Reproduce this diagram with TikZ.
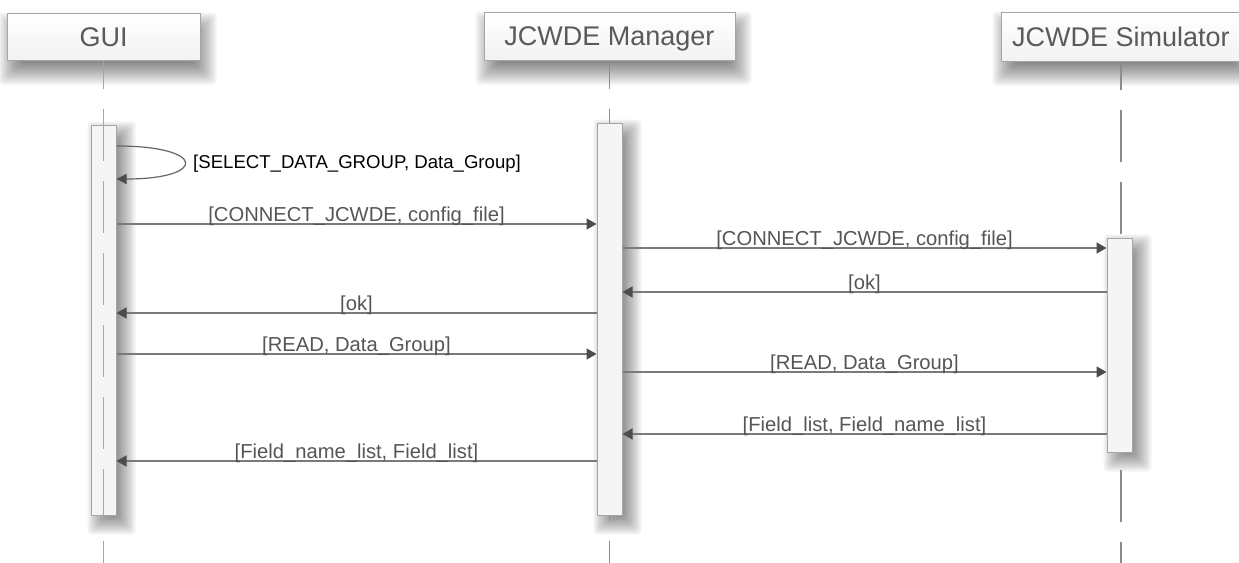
\documentclass[tikz,border=0pt]{standalone}
\usepackage{fontspec}
\setmainfont{Liberation Sans}
\usetikzlibrary{arrows.meta}

\definecolor{lineg}{HTML}{7A7A7A}
\definecolor{headg}{HTML}{5A5A5A}
\definecolor{textg}{HTML}{555555}
\definecolor{boxborder}{HTML}{A5A5A5}

\pgfdeclarelayer{background}
\pgfsetlayers{background,main}

% soft drop shadow behind a named node: #1 node, #2 dx, #3 dy, #4 spread
\newcommand\dropshadow[4]{%
  \begin{pgfonlayer}{background}
    \foreach \k in {0,...,12}{%
      \pgfmathsetmacro\e{#4 - \k*#4/6}%
      \fill[black, opacity=0.048, rounded corners=4pt]
        ([shift={(#2-\e,#3-\e)}]#1.north west) rectangle ([shift={(#2+\e,#3+\e)}]#1.south east);
    }%
  \end{pgfonlayer}}

\begin{document}
\begin{tikzpicture}[x=1pt,y=-1pt,
  header/.style={draw=boxborder, line width=1pt, top color=white, bottom color=black!5,
    font=\fontsize{27}{30}\selectfont, text=headg, inner sep=0pt,
    text height=19.5pt, text depth=0pt},
  activation/.style={draw=boxborder, line width=1pt, fill=black!4, inner sep=0pt,
    minimum width=25pt},
  lifeline/.style={draw=black!45, line width=1.5pt, dash pattern=on 52pt off 20pt, dash phase=24pt},
  innerlife/.style={draw=black!35, line width=1.5pt, dash pattern=on 52pt off 20pt, dash phase=24pt},
  msg/.style={draw=lineg, line width=1.5pt, -{Triangle[length=10pt,width=11pt,color=black!70]}},
  msglabel/.style={font=\fontsize{20.2}{23}\selectfont, text=textg, anchor=base, inner sep=0pt, yshift=3pt},
  selflabel/.style={font=\fontsize{18.6}{21}\selectfont, text=black, anchor=west, inner sep=0pt}
]
\path[use as bounding box] (0,0) rectangle (1239,562);
\clip (0,0) rectangle (1239,562);
\begin{pgfonlayer}{background}
  \fill[white] (0,0) rectangle (1239,562);
\end{pgfonlayer}

% participants
\node[header, minimum width=193pt, minimum height=47pt] (gui) at (103.5,36.5) {GUI};
\node[header, minimum width=251pt, minimum height=48pt] (mgr) at (609.5,36) {JCWDE Manager};
\node[header, minimum width=240pt, minimum height=49pt] (sim) at (1121,36.5) {JCWDE Simulator};
\dropshadow{gui}{4}{12}{12}
\dropshadow{mgr}{4}{12}{12}
\dropshadow{sim}{4}{12}{12}

% lifelines
\draw[lifeline] (gui.south) -- (gui.south |- 0,580);
\draw[lifeline] (mgr.south) -- (mgr.south |- 0,580);
\draw[lifeline] (sim.south) -- (sim.south |- 0,580);

% activation bars
\node[activation, minimum height=392pt] (mact) at (609.5,319) {};
\node[activation, minimum height=214pt] (sact) at (1119.5,345) {};
\node[activation, minimum height=390pt] (gact) at (103.5,320) {};
\dropshadow{mact}{8}{8}{11}
\dropshadow{sact}{8}{8}{11}
\dropshadow{gact}{8}{8}{11}
\draw[innerlife] (gui.south) -- (gui.south |- 0,580);

% self message
\draw[draw=black!60, line width=1.2pt, -{Triangle[length=10pt,width=10pt,color=black!70]}]
  (gact.east |- 0,146) .. controls (207,146) and (207,179) .. (gact.east |- 0,179);
\node[selflabel] (selfl) at (193,164) {[SELECT\_DATA\_GROUP, Data\_Group]};

% messages
\draw[msg] (gact.east |- 0,224) -- (mact.west |- 0,224)
  node[midway, msglabel] {[CONNECT\_JCWDE, config\_file]};
\draw[msg] (mact.east |- 0,248) -- (sact.west |- 0,248)
  node[midway, msglabel] {[CONNECT\_JCWDE, config\_file]};
\draw[msg] (sact.west |- 0,292) -- (mact.east |- 0,292)
  node[midway, msglabel] {[ok]};
\draw[msg] (mact.west |- 0,313) -- (gact.east |- 0,313)
  node[midway, msglabel] {[ok]};
\draw[msg] (gact.east |- 0,354) -- (mact.west |- 0,354)
  node[midway, msglabel] {[READ, Data\_Group]};
\draw[msg] (mact.east |- 0,372) -- (sact.west |- 0,372)
  node[midway, msglabel] {[READ, Data\_Group]};
\draw[msg] (sact.west |- 0,434) -- (mact.east |- 0,434)
  node[midway, msglabel] {[Field\_list, Field\_name\_list]};
\draw[msg] (mact.west |- 0,461) -- (gact.east |- 0,461)
  node[midway, msglabel] {[Field\_name\_list, Field\_list]};
\end{tikzpicture}
\end{document}
